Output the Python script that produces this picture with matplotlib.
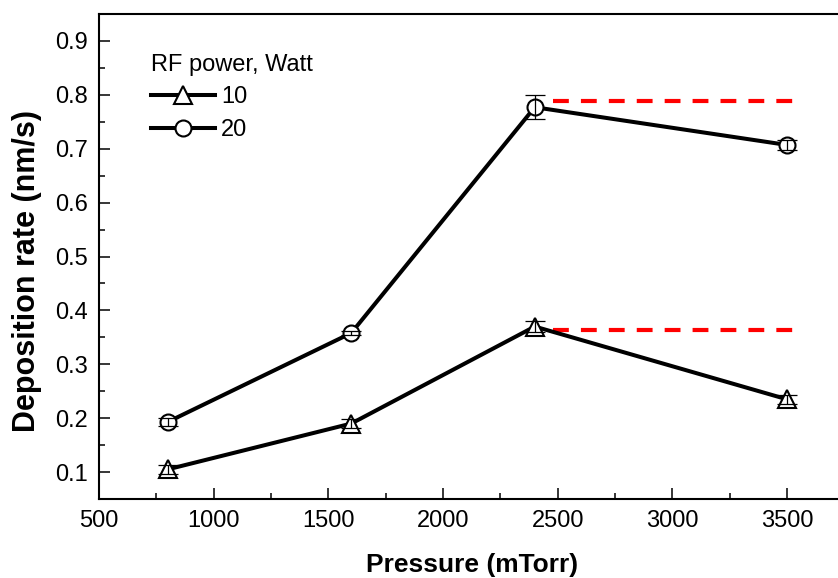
import matplotlib
matplotlib.use("Agg")
import matplotlib.pyplot as plt
from matplotlib.ticker import MultipleLocator

plt.rcParams['font.family'] = ['Liberation Sans', 'DejaVu Sans']

pressure = [800, 1600, 2400, 3500]
rate_10w = [0.105, 0.19, 0.37, 0.235]
err_10w = [0.008, 0.008, 0.011, 0.008]
rate_20w = [0.193, 0.358, 0.777, 0.707]
err_20w = [0.008, 0.004, 0.022, 0.010]
ref_x = [2480, 3525]
ref_20w = [0.789, 0.789]
ref_10w = [0.363, 0.363]
series_labels = ['10', '20']
legend_title = 'RF power, Watt'
xticks = [500, 1000, 1500, 2000, 2500, 3000, 3500]
yticks = [0.1, 0.2, 0.3, 0.4, 0.5, 0.6, 0.7, 0.8, 0.9]

W, H = 838, 578
fig = plt.figure(figsize=(W / 100, H / 100), dpi=100)
ax = fig.add_axes([99 / W, (H - 499) / H, (W - 99) / W, 485 / H])

lw = 2.9
ms_c = 11.5
ms_t = 13
for x, y, e, mk, ms, lab in [(pressure, rate_10w, err_10w, '^', ms_t, series_labels[0]),
                              (pressure, rate_20w, err_20w, 'o', ms_c, series_labels[1])]:
    ax.plot(x, y, color='black', lw=lw, marker=mk, ms=ms, mfc='white', mec='black',
            mew=1.5, zorder=3, label=lab)
    ax.errorbar(x, y, yerr=e, fmt='none', ecolor='black', elinewidth=0.9,
                capsize=7, capthick=0.9, zorder=4)

for ry in [ref_20w, ref_10w]:
    ax.plot(ref_x, ry, color='red', lw=3, dashes=(3.8, 2.9), zorder=2)

ax.set_xlim(500, 500 + 739 / (688 / 3000))
ax.set_ylim(0.05, 0.95)
ax.set_xticks(xticks)
ax.set_yticks(yticks)
ax.xaxis.set_minor_locator(MultipleLocator(250))
ax.yaxis.set_minor_locator(MultipleLocator(0.05))
ax.tick_params(which='both', direction='in', top=False, right=False, width=1.1,
               labelsize=17, pad=8)
ax.tick_params(which='major', length=8)
ax.tick_params(which='minor', length=4.5)
ax.set_yticklabels([f'{v:.1f}' for v in yticks])
ax.spines['right'].set_visible(False)
for s in ['left', 'bottom', 'top']:
    ax.spines[s].set_linewidth(1.5)

ax.set_xlabel('Pressure (mTorr)', fontsize=19, fontweight='bold')
ax.set_ylabel('Deposition rate (nm/s)', fontsize=22, fontweight='bold')
ax.xaxis.set_label_coords((472 - 99) / 739, (499 - 553) / 485)
ax.yaxis.set_label_coords((42 - 99) / 739, (499 - 271) / 485)

leg = ax.legend(title=legend_title, loc='upper left', bbox_to_anchor=(0.071, 0.918),
                frameon=False, fontsize=17, title_fontsize=17, numpoints=1,
                handlelength=2.7, handletextpad=0.25, labelspacing=0.45,
                borderpad=0, borderaxespad=0, alignment='left')

fig.savefig('out.png', dpi=100)
